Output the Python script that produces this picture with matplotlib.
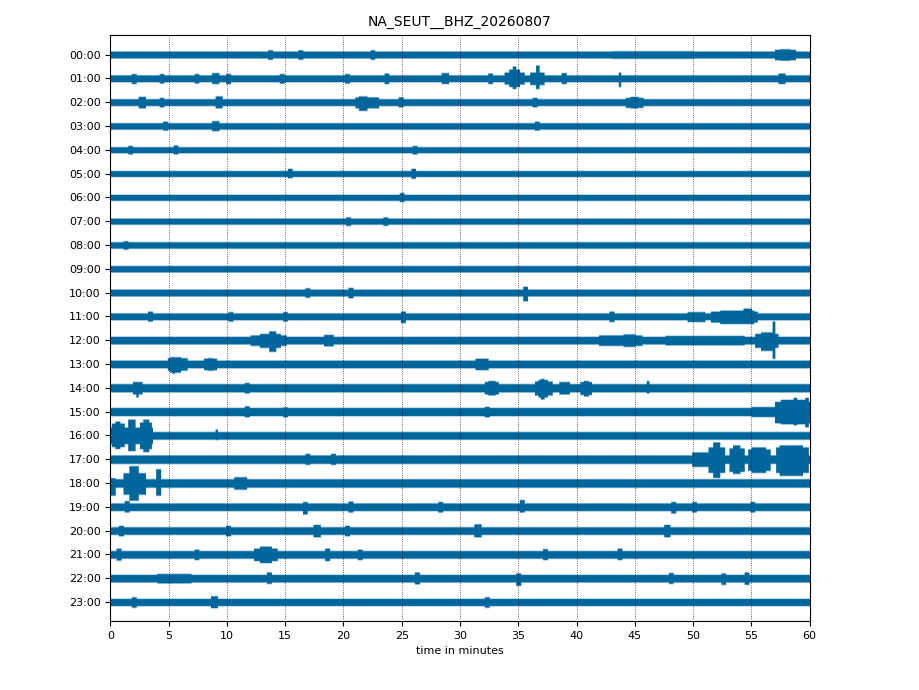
import numpy as np
import matplotlib
matplotlib.use("Agg")
import matplotlib.pyplot as plt

title = "NA_SEUT__BHZ_20260807"
hour_labels = ["%02d:00" % h for h in range(24)]
x_ticks = [0, 5, 10, 15, 20, 25, 30, 35, 40, 45, 50, 55, 60]

# background half-width of each hourly trace (pixels at 100 dpi, row spacing ~23.8 px)
base_amp = [3.2, 3.2, 3.2, 3.0, 2.8, 2.8, 2.8, 2.8, 3.0, 3.0,
            3.2, 3.2, 3.6, 3.6, 3.9, 3.9, 3.6, 4.0, 4.0, 3.6,
            3.6, 3.6, 3.6, 3.4]

# events: (hour, start_min, end_min, up_px, down_px)
events = [
    (0, 13.5, 13.9, 4.5, 4.5), (0, 16.1, 16.5, 4.5, 4.5), (0, 22.3, 22.7, 4.5, 4.5),
    (0, 43.0, 50.0, 3.5, 3.5), (0, 57.0, 58.8, 5.0, 5.0), (0, 57.4, 58.3, 5.5, 5.5),
    (1, 1.8, 2.2, 4.5, 5.0), (1, 4.2, 4.6, 4.5, 4.5), (1, 7.2, 7.6, 4.5, 4.5),
    (1, 8.7, 9.3, 5.5, 5.0), (1, 9.9, 10.3, 4.5, 5.0), (1, 14.5, 14.9, 4.5, 4.5),
    (1, 20.1, 20.5, 4.5, 4.5), (1, 23.5, 23.9, 5.0, 5.0), (1, 28.4, 29.0, 5.5, 5.0),
    (1, 32.4, 32.8, 5.0, 5.0), (1, 33.8, 35.5, 6.0, 5.5), (1, 34.2, 35.1, 9.0, 8.0),
    (1, 34.5, 34.8, 12.0, 10.0),
    (1, 36.0, 37.2, 6.0, 6.0), (1, 36.5, 36.8, 13.0, 10.0), (1, 38.7, 39.1, 5.5, 5.0),
    (1, 43.6, 43.8, 6.0, 8.0), (1, 57.3, 57.9, 5.0, 5.0),
    (2, 2.4, 3.0, 5.5, 5.5), (2, 4.2, 4.6, 4.5, 4.5), (2, 9.0, 9.6, 6.0, 5.5),
    (2, 21.0, 23.0, 5.0, 5.5), (2, 21.3, 22.0, 6.0, 8.0), (2, 24.7, 25.1, 5.0, 4.5),
    (2, 36.2, 36.6, 4.5, 4.5), (2, 44.2, 45.7, 4.5, 5.0), (2, 44.6, 45.3, 5.5, 5.5),
    (3, 4.5, 4.9, 4.5, 4.0), (3, 8.7, 9.3, 5.0, 4.5), (3, 36.4, 36.8, 4.5, 4.0),
    (4, 1.5, 1.9, 4.0, 4.0), (4, 5.4, 5.8, 4.5, 4.0), (4, 25.9, 26.3, 4.0, 4.0),
    (5, 15.2, 15.6, 5.0, 4.0), (5, 25.8, 26.2, 5.0, 4.5),
    (6, 24.8, 25.2, 4.5, 4.0),
    (7, 20.2, 20.6, 4.0, 4.0), (7, 23.4, 23.8, 4.0, 4.0),
    (8, 1.1, 1.5, 4.0, 4.0),
    (10, 16.7, 17.1, 4.5, 4.5), (10, 20.4, 20.8, 5.0, 5.0), (10, 35.4, 35.8, 6.0, 8.0),
    (11, 3.2, 3.6, 5.0, 4.5), (11, 10.1, 10.5, 4.5, 4.5), (11, 14.8, 15.2, 4.5, 4.5),
    (11, 24.9, 25.3, 5.0, 6.0), (11, 42.8, 43.2, 5.0, 5.0), (11, 49.5, 51.0, 4.5, 5.0),
    (11, 51.5, 55.5, 5.0, 5.5), (11, 52.3, 55.2, 6.0, 7.0), (11, 54.3, 55.0, 8.0, 7.0),
    (12, 12.0, 15.1, 5.0, 5.0), (12, 12.8, 14.6, 6.5, 7.0), (12, 13.6, 14.2, 9.0, 11.0),
    (12, 18.3, 19.1, 5.5, 5.5),
    (12, 41.9, 45.6, 5.0, 5.0), (12, 44.0, 45.0, 6.0, 6.0), (12, 47.6, 54.4, 4.5, 4.5),
    (12, 55.3, 57.3, 6.5, 7.0), (12, 55.8, 57.0, 8.0, 10.0), (12, 56.8, 57.0, 19.0, 18.0),
    (13, 4.9, 6.6, 6.0, 6.0), (13, 5.1, 6.0, 7.0, 8.0), (13, 5.3, 5.5, 7.0, 9.0),
    (13, 8.0, 9.1, 5.5, 5.5), (13, 8.3, 8.8, 6.0, 6.0),
    (13, 31.3, 32.4, 5.5, 5.5),
    (14, 1.9, 2.7, 6.0, 6.0), (14, 2.2, 2.4, 6.0, 9.0), (14, 11.5, 11.9, 5.0, 5.0),
    (14, 32.1, 33.3, 6.0, 6.0), (14, 32.4, 33.0, 7.0, 7.0),
    (14, 36.4, 37.9, 6.5, 7.0), (14, 36.7, 37.5, 8.0, 9.0), (14, 36.9, 37.2, 9.0, 11.0),
    (14, 38.5, 39.4, 6.0, 6.0), (14, 40.3, 41.3, 6.0, 6.5), (14, 40.6, 41.0, 7.0, 8.0),
    (14, 46.0, 46.2, 7.0, 5.0),
    (15, 11.5, 11.9, 5.5, 5.0), (15, 14.8, 15.2, 4.5, 5.0), (15, 32.1, 32.5, 5.0, 5.0),
    (15, 55.0, 57.0, 4.8, 4.8), (15, 57.0, 60.0, 10.0, 11.0), (15, 57.5, 59.8, 12.0, 12.0),
    (15, 58.6, 58.9, 14.0, 13.0), (15, 59.6, 59.9, 14.0, 15.0),
    (16, 0.0, 3.6, 8.0, 8.0), (16, 0.1, 1.2, 12.0, 11.0), (16, 0.4, 0.8, 14.0, 13.0),
    (16, 1.5, 2.1, 16.0, 15.0), (16, 2.5, 3.5, 13.0, 13.0), (16, 2.8, 3.3, 16.0, 16.0),
    (16, 9.0, 9.2, 6.0, 4.0),
    (17, 16.7, 17.1, 5.5, 5.0), (17, 18.9, 19.3, 5.5, 5.0), (17, 49.9, 51.3, 7.0, 7.0),
    (17, 51.3, 52.7, 12.0, 13.0), (17, 51.7, 52.3, 17.0, 18.0),
    (17, 53.1, 54.4, 11.0, 12.0), (17, 53.4, 54.0, 14.0, 14.0),
    (17, 54.7, 56.6, 10.0, 11.0), (17, 55.0, 56.2, 12.0, 13.0),
    (17, 57.1, 59.9, 12.0, 13.0), (17, 57.4, 59.4, 14.0, 16.0),
    (18, 0.0, 0.4, 5.0, 12.0), (18, 1.1, 3.0, 10.0, 11.0), (18, 1.6, 2.4, 17.0, 17.0),
    (18, 3.9, 4.3, 14.0, 12.0), (18, 10.6, 11.7, 6.0, 6.0),
    (19, 1.2, 1.6, 6.0, 5.0), (19, 16.5, 16.9, 5.0, 7.0), (19, 20.4, 20.8, 5.5, 5.0),
    (19, 28.1, 28.5, 5.0, 5.0), (19, 35.1, 35.5, 7.0, 5.0), (19, 48.1, 48.5, 5.0, 6.0),
    (19, 49.9, 50.3, 5.0, 5.0), (19, 54.9, 55.3, 5.0, 5.0),
    (20, 0.7, 1.1, 5.0, 5.0), (20, 9.9, 10.3, 5.0, 5.0), (20, 17.4, 18.0, 6.0, 6.0),
    (20, 20.1, 20.5, 5.0, 5.0), (20, 31.2, 31.8, 6.5, 6.0), (20, 47.5, 48.0, 6.0, 6.0),
    (21, 0.5, 0.9, 6.0, 5.5), (21, 7.2, 7.6, 5.0, 5.0), (21, 12.3, 14.3, 6.0, 6.0),
    (21, 12.8, 13.8, 8.0, 8.0), (21, 18.4, 18.8, 6.0, 6.0), (21, 21.2, 21.6, 5.0, 5.0),
    (21, 37.1, 37.5, 5.5, 5.0), (21, 43.5, 43.9, 6.0, 5.0),
    (22, 4.0, 6.9, 4.5, 4.5), (22, 13.4, 13.8, 6.0, 5.0), (22, 26.1, 26.5, 6.0, 5.5),
    (22, 34.8, 35.2, 5.0, 7.0), (22, 47.9, 48.3, 5.5, 5.0), (22, 52.4, 52.8, 5.0, 6.0),
    (22, 54.4, 54.8, 6.0, 6.0),
    (23, 1.8, 2.2, 5.0, 5.0), (23, 8.6, 9.2, 6.0, 5.5), (23, 32.1, 32.5, 5.0, 5.0),
]

trace_color = "#00669c"
row_px = 23.78  # pixel spacing of hourly rows

fig = plt.figure(figsize=(9.2, 6.9), dpi=100)
ax = fig.add_axes([0.12, 0.10, 0.76, 0.85])

t = np.linspace(0, 60, 2401)
for h in range(24):
    up = np.full_like(t, base_amp[h])
    dn = np.full_like(t, base_amp[h])
    for (eh, s, e, u, d) in events:
        if eh != h:
            continue
        m = (t >= s) & (t <= e)
        up[m] = np.maximum(up[m], u)
        dn[m] = np.maximum(dn[m], d)
    y0 = -h
    ax.fill_between(t, y0 - (dn + 0.8) / row_px, y0 + (up + 0.8) / row_px, step="mid",
                    color=trace_color, alpha=0.35, lw=0)
    ax.fill_between(t, y0 - dn / row_px, y0 + up / row_px, step="mid",
                    color=trace_color, lw=0)

ax.set_xlim(0, 60)
ax.set_ylim(-23 - 19 / row_px, 20 / row_px)
ax.set_xticks(x_ticks)
ax.set_xticklabels([str(v) for v in x_ticks], fontsize=8)
ax.set_yticks([-h for h in range(24)])
ax.set_yticklabels(hour_labels, fontsize=8)
ax.set_xlabel("time in minutes", fontsize=8)
ax.set_title(title, fontsize=10)
ax.xaxis.grid(True, linestyle=":", color="black", linewidth=0.6, alpha=0.8)
ax.set_axisbelow(False)
ax.tick_params(top=False, right=False)

fig.savefig("out.png", dpi=100)
